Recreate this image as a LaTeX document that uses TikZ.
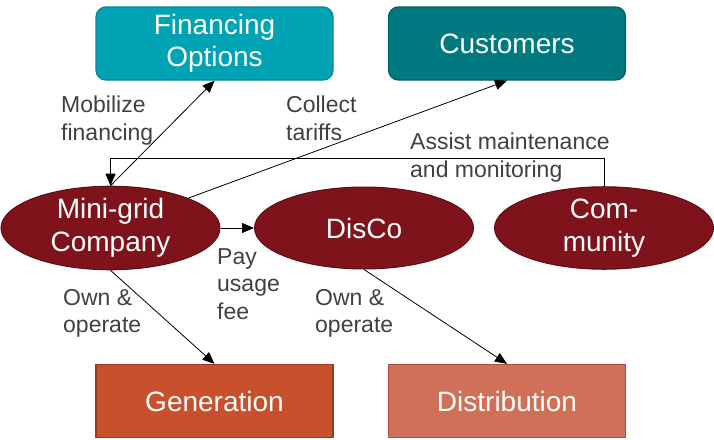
\documentclass[tikz,border=0pt]{standalone}
\usepackage{fontspec}
\setmainfont{Liberation Sans}
\usetikzlibrary{arrows.meta,shapes.geometric}
\definecolor{finc}{HTML}{00A3B4}
\definecolor{fincb}{HTML}{0E8390}
\definecolor{custc}{HTML}{007A80}
\definecolor{custb}{HTML}{055E62}
\definecolor{ellc}{HTML}{7E131C}
\definecolor{ellb}{HTML}{5E0E14}
\definecolor{genc}{HTML}{C8502D}
\definecolor{genb}{HTML}{963A20}
\definecolor{disc}{HTML}{D07058}
\definecolor{disb}{HTML}{A05440}
\definecolor{labc}{HTML}{404040}
\tikzset{
  boxnode/.style={draw, line width=1.3pt, minimum width=237pt, minimum height=73pt, inner sep=0pt, text=white, font=\fontsize{28}{32}\selectfont, align=center},
  ellnode/.style={ellipse, draw=ellb, fill=ellc, line width=1pt, minimum width=219pt, minimum height=82pt, inner sep=0pt, text=white, font=\fontsize{28}{33}\selectfont, align=center},
  lab/.style={text=labc, font=\fontsize{23}{27.5}\selectfont, align=left, anchor=north west, inner sep=0pt},
  conn/.style={draw=black, line width=0.8pt, -{Triangle[length=12pt,width=10pt]}}
}
\begin{document}
\begin{tikzpicture}[x=1pt,y=-1pt]
\useasboundingbox (0,0) rectangle (714,439);
\node[boxnode, rounded corners=10pt, fill=finc, draw=fincb] (fin) at (214.5,43.5) {Financing\\Options};
\node[boxnode, rounded corners=10pt, fill=custc, draw=custb] (cust) at (507,43.5) {Customers};
\node[boxnode, fill=genc, draw=genb] (gen) at (214.5,401) {Generation};
\node[boxnode, fill=disc, draw=disb] (dist) at (507,401) {Distribution};
\node[ellnode] (mgc) at (110.5,228) {Mini-grid\\Company};
\node[ellnode] (disco) at (364,228) {DisCo};
\node[ellnode] (comm) at (604,228) {Com-\\munity};
\coordinate (c1) at (604,158);
\coordinate (c2) at (110.5,158);
\draw[conn] (mgc.north) -- (fin.south);
\draw[conn] (mgc.21) -- (cust.south);
\draw[conn] (comm.north) -- (c1) -- (c2) -- (mgc.north);
\draw[conn] (mgc.east) -- (disco.west);
\draw[conn] (mgc.south) -- (gen.north);
\draw[conn] (disco.south) -- (dist.north);
\node[lab] (l1) at (61,96) {Mobilize\\financing};
\node[lab] (l2) at (286,96) {Collect\\tariffs};
\node[lab] (l3) at (410,133) {Assist maintenance\\and monitoring};
\node[lab] (l4) at (217,248) {Pay\\usage\\fee};
\node[lab] (l5) at (63,289) {Own \&\\operate};
\node[lab] (l6) at (315,289) {Own \&\\operate};
\end{tikzpicture}
\end{document}
